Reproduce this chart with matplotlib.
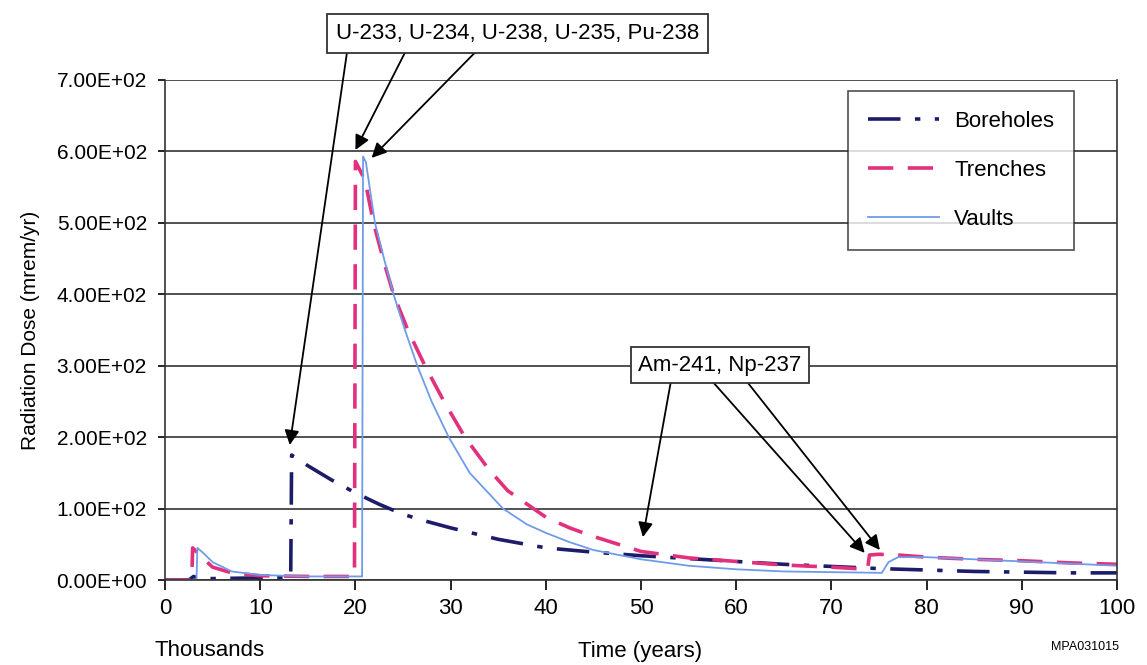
import matplotlib.pyplot as plt
from matplotlib.ticker import FuncFormatter

# ---- data (thousands of years vs mrem/yr) ----
bore_x = [0, 2.5, 3.0, 3.6, 5, 10, 13.2, 13.3, 15, 17.5, 20, 22.5, 25, 27.5, 30, 35,
          40, 45, 50, 55, 60, 65, 70, 75, 80, 85, 90, 95, 100]
bore_y = [0, 0, 5, 2, 2, 3, 3, 175, 160, 140, 122, 106, 92, 82, 73, 57,
          45, 39, 34, 30, 26, 22, 19, 16, 14, 12, 11, 10, 10]

trench_x = [0, 2.8, 2.9, 4, 5, 7, 10, 15, 19.9, 20.0, 21, 21.9, 23, 24, 25.5, 27.3,
            29.3, 31.5, 34, 36, 38.7, 40, 42.5, 45, 50, 55, 60, 65, 70, 73.8, 74.0,
            75, 77, 80, 85, 90, 95, 100]
trench_y = [0, 0, 45, 30, 18, 10, 6, 5, 5, 586, 560, 500, 445, 400, 350, 300,
            250, 200, 155, 125, 100, 88, 73, 61, 40, 31, 26, 21, 18, 15, 35,
            36, 35, 32, 29, 27, 24, 22]

vault_x = [0, 3.3, 3.4, 4, 5, 7, 10, 15, 20.7, 20.8, 21.1, 22.05, 23, 24, 25.2,
           26.5, 28, 29.8, 32, 35.5, 38, 40, 42.5, 45, 50, 55, 60, 65, 70, 75.3,
           76, 77, 80, 85, 90, 95, 100]
vault_y = [0, 0, 45, 38, 25, 12, 7, 5, 5, 593, 585, 500, 450, 400, 350,
           300, 250, 200, 150, 100, 78, 66, 53, 42, 29, 20, 15, 12, 11, 10,
           25, 32, 32, 29, 26, 23, 20]

y_ticks = [0, 100, 200, 300, 400, 500, 600, 700]
x_ticks = [0, 10, 20, 30, 40, 50, 60, 70, 80, 90, 100]

plt.rcParams['font.family'] = ['Liberation Sans', 'DejaVu Sans']

fig = plt.figure(figsize=(11.47, 6.65), dpi=100)
ax = fig.add_axes([0.1439, 0.1278, 0.8299, 0.7519])

ax.plot(bore_x, bore_y, color='#1c1c6b', lw=2.6, dashes=(9, 4, 1.5, 4), label='Boreholes')
ax.plot(trench_x, trench_y, color='#e2307c', lw=2.6, dashes=(7, 4), label='Trenches')
ax.plot(vault_x, vault_y, color='#6f9be8', lw=1.3, label='Vaults')

ax.set_xlim(0, 100)
ax.set_ylim(0, 700)
ax.set_xticks(x_ticks)
ax.set_yticks(y_ticks)
ax.yaxis.set_major_formatter(FuncFormatter(lambda v, p: '%.2fE+02' % (v / 100) if v else '0.00E+00'))
ax.grid(axis='y', color='#222222', lw=1.1)
ax.set_axisbelow(True)
for s in ax.spines.values():
    s.set_color('#333333')
    s.set_linewidth(1.2)
ax.spines['top'].set_visible(False)
ax.tick_params(axis='x', labelsize=16, length=7, width=1.2, pad=6, direction='out')
ax.tick_params(axis='y', labelsize=15, length=5, width=1.2, pad=8)
ax.set_ylabel('Radiation Dose (mrem/yr)', fontsize=15, labelpad=12)

leg = ax.legend(loc='upper left', bbox_to_anchor=(0.717, 0.978), fontsize=16,
                frameon=True, fancybox=False, edgecolor='#222222', labelspacing=1.25,
                handlelength=3.2, borderpad=0.9, handletextpad=0.7, borderaxespad=0)
leg.get_frame().set_linewidth(1.2)

arrow = dict(arrowstyle='-|>', color='black', lw=1.3, mutation_scale=22, shrinkA=0, shrinkB=0)

# top label box with three arrows
fig.text(0.4516, 0.950, 'U-233, U-234, U-238, U-235, Pu-238', fontsize=16,
         ha='center', va='center',
         bbox=dict(boxstyle='square,pad=0.4', fc='white', ec='#333333', lw=1.3))
for (sx, tx, ty) in [(0.3025, 13.1, 189), (0.3531, 20.0, 602), (0.4141, 21.7, 591)]:
    ax.annotate('', xy=(tx, ty), xycoords='data', xytext=(sx, 0.921),
                textcoords='figure fraction', arrowprops=arrow, annotation_clip=False)

# Am / Np label
for (sx, tx, ty) in [(53.3, 50.2, 60), (56.7, 73.5, 38), (60.4, 75.1, 42)]:
    ax.annotate('', xy=(tx, ty), xytext=(sx, 290), arrowprops=arrow)
ax.text(58.3, 301, 'Am-241, Np-237', fontsize=16, ha='center', va='center', zorder=5,
        bbox=dict(boxstyle='square,pad=0.35', fc='white', ec='#333333', lw=1.3))

fig.text(0.183, 0.022, 'Thousands', fontsize=16, ha='center', va='center')
fig.text(0.558, 0.020, 'Time (years)', fontsize=16, ha='center', va='center')
fig.text(0.946, 0.027, 'MPA031015', fontsize=9, ha='center', va='center')

plt.savefig('out.png', dpi=100)
